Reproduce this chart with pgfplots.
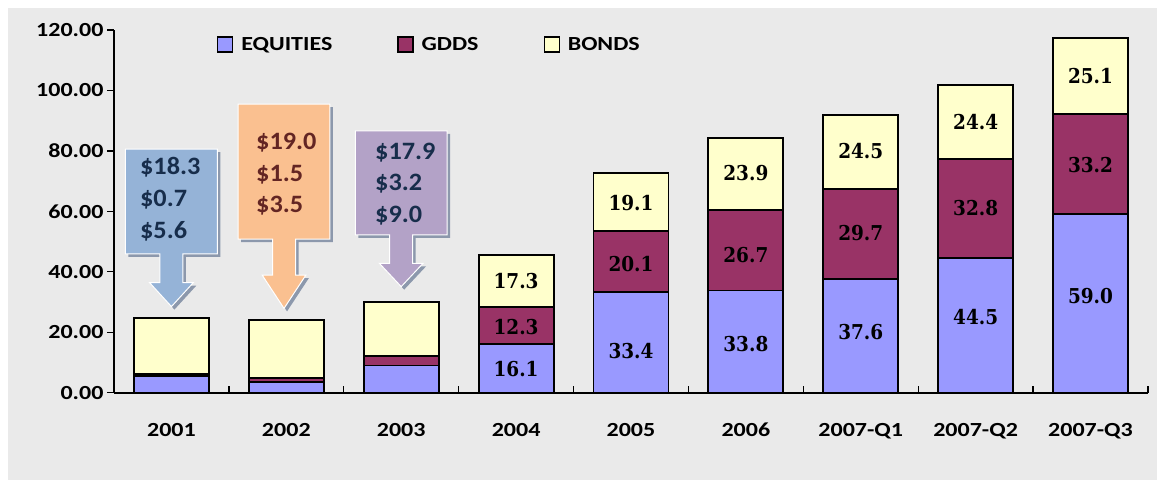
\documentclass[border=0pt]{standalone}
\usepackage{pgfplots}
\pgfplotsset{compat=1.18}
\usepackage{fontspec}
\setmainfont{Carlito}[FakeStretch=1.2]
\newfontfamily\calfont{Carlito}[FakeStretch=1.05]
\newfontfamily\labfont{DejaVu Serif}[FakeStretch=0.9]
\definecolor{bgc}{RGB}{234,234,234}
\definecolor{eqc}{RGB}{153,153,255}
\definecolor{gdc}{RGB}{153,51,102}
\definecolor{boc}{RGB}{255,255,204}
\definecolor{cblue}{RGB}{149,179,215}
\definecolor{corange}{RGB}{250,192,144}
\definecolor{cpurple}{RGB}{179,162,199}
\definecolor{tnavy}{RGB}{23,45,75}
\definecolor{tred}{RGB}{99,37,35}
\definecolor{shad}{RGB}{140,152,172}
\begin{document}
\begin{tikzpicture}
\useasboundingbox (0pt,0pt) rectangle (1157pt,-480pt);
\fill[white] (0pt,0pt) rectangle (1157pt,-480pt);
\fill[bgc] (8pt,-8pt) rectangle (1157pt,-480pt);
\begin{axis}[
  at={(114pt,-392.7pt)}, anchor=south west,
  width=1034pt, height=362.7pt, scale only axis,
  ybar stacked, bar width=75pt,
  xmin=-0.5, xmax=8.5, ymin=0, ymax=120,
  axis x line*=bottom, axis y line*=left,
  axis line style={line width=1.8pt, black},
  ytick={0,20,...,120},
  yticklabel style={/pgf/number format/.cd, fixed, fixed zerofill, precision=2},
  /pgf/number format/assume math mode=true,
  ticklabel style={font=\fontsize{20}{20}\selectfont\bfseries},
  xtick align=inside, ytick align=outside, major tick length=7pt,
  tick style={line width=1.3pt, black},
  xtick={0.5,1.5,...,8.5}, xticklabels={},
  extra x ticks={0,1,2,3,4,5,6,7,8},
  extra x tick labels={2001,2002,2003,2004,2005,2006,2007-Q1,2007-Q2,2007-Q3},
  extra x tick style={major tick length=0pt, tick label style={yshift=-27pt}},
  legend columns=3,
  legend style={at={(axis description cs:0.0995,0.9600)}, anchor=west,
    draw=none, fill=none, inner sep=0pt,
    nodes={inner sep=3pt},
    font=\fontsize{20}{20}\selectfont\bfseries,
    /tikz/every odd column/.append style={column sep=5pt},
    /tikz/every even column/.append style={column sep=62pt}},
  legend image code/.code={\draw[#1, line width=1.3pt] (0pt,-7.5pt) rectangle (15pt,7.5pt);},
  every axis plot/.append style={draw=black, line width=1.9pt},
]
\addplot[fill=eqc] coordinates {(0,5.6) (1,3.5) (2,9.0) (3,16.1) (4,33.4) (5,33.8) (6,37.6) (7,44.5) (8,59.0)};
\addlegendentry{EQUITIES}
\addplot[fill=gdc] coordinates {(0,0.7) (1,1.5) (2,3.2) (3,12.3) (4,20.1) (5,26.7) (6,29.7) (7,32.8) (8,33.2)};
\addlegendentry{GDDS}
\addplot[fill=boc] coordinates {(0,18.3) (1,19.0) (2,17.9) (3,17.3) (4,19.1) (5,23.9) (6,24.5) (7,24.4) (8,25.1)};
\addlegendentry{BONDS}
\end{axis}
\begin{axis}[
  at={(114pt,-392.7pt)}, anchor=south west,
  width=1034pt, height=362.7pt, scale only axis,
  xmin=-0.5, xmax=8.5, ymin=0, ymax=120,
  hide axis, clip=false,
]
\addplot[draw=none, mark=none,
  nodes near coords, point meta=explicit symbolic,
  every node near coord/.append style={anchor=center, inner sep=0pt, font=\labfont\fontsize{20.5}{20.5}\selectfont\bfseries, text=black}]
  coordinates {(3,7.8)[16.1] (4,13.9)[33.4] (5,16.2)[33.8] (6,20.2)[37.6] (7,25.0)[44.5] (8,32.0)[59.0]
   (3,21.7)[12.3] (4,42.5)[20.1] (5,45.7)[26.7] (6,52.7)[29.7] (7,61.0)[32.8] (8,75.3)[33.2]
   (3,37.1)[17.3] (4,62.9)[19.1] (5,72.8)[23.9] (6,79.9)[24.5] (7,89.4)[24.4] (8,104.9)[25.1]};
% callouts
\fill[shad, shift={(3pt,-3pt)}] (axis cs:-0.4,80.6) -- (axis cs:0.4,80.6) -- (axis cs:0.4,45.9) -- (axis cs:0.1,45.9) -- (axis cs:0.1,36.4) -- (axis cs:0.19,36.4) -- (axis cs:0,28.5) -- (axis cs:-0.19,36.4) -- (axis cs:-0.1,36.4) -- (axis cs:-0.1,45.9) -- (axis cs:-0.4,45.9) -- cycle;
\filldraw[fill=cblue, draw=white, line width=1pt] (axis cs:-0.4,80.6) -- (axis cs:0.4,80.6) -- (axis cs:0.4,45.9) -- (axis cs:0.1,45.9) -- (axis cs:0.1,36.4) -- (axis cs:0.19,36.4) -- (axis cs:0,28.5) -- (axis cs:-0.19,36.4) -- (axis cs:-0.1,36.4) -- (axis cs:-0.1,45.9) -- (axis cs:-0.4,45.9) -- cycle;
\fill[shad, shift={(3pt,-3pt)}] (axis cs:0.58,95.5) -- (axis cs:1.38,95.5) -- (axis cs:1.38,50.8) -- (axis cs:1.08,50.8) -- (axis cs:1.08,38.9) -- (axis cs:1.17,38.9) -- (axis cs:0.98,27.9) -- (axis cs:0.79,38.9) -- (axis cs:0.88,38.9) -- (axis cs:0.88,50.8) -- (axis cs:0.58,50.8) -- cycle;
\filldraw[fill=corange, draw=white, line width=1pt] (axis cs:0.58,95.5) -- (axis cs:1.38,95.5) -- (axis cs:1.38,50.8) -- (axis cs:1.08,50.8) -- (axis cs:1.08,38.9) -- (axis cs:1.17,38.9) -- (axis cs:0.98,27.9) -- (axis cs:0.79,38.9) -- (axis cs:0.88,38.9) -- (axis cs:0.88,50.8) -- (axis cs:0.58,50.8) -- cycle;
\fill[shad, shift={(3pt,-3pt)}] (axis cs:1.6,86.6) -- (axis cs:2.4,86.6) -- (axis cs:2.4,52.2) -- (axis cs:2.1,52.2) -- (axis cs:2.1,42.8) -- (axis cs:2.19,42.8) -- (axis cs:2.0,35.1) -- (axis cs:1.81,42.8) -- (axis cs:1.9,42.8) -- (axis cs:1.9,52.2) -- (axis cs:1.6,52.2) -- cycle;
\filldraw[fill=cpurple, draw=white, line width=1pt] (axis cs:1.6,86.6) -- (axis cs:2.4,86.6) -- (axis cs:2.4,52.2) -- (axis cs:2.1,52.2) -- (axis cs:2.1,42.8) -- (axis cs:2.19,42.8) -- (axis cs:2.0,35.1) -- (axis cs:1.81,42.8) -- (axis cs:1.9,42.8) -- (axis cs:1.9,52.2) -- (axis cs:1.6,52.2) -- cycle;
\begin{scope}[every node/.style={anchor=mid west, inner sep=0pt, font=\calfont\fontsize{25}{25}\selectfont\bfseries}]
\node[text=tnavy] at (axis cs:-0.274,73.1) {\$18.3};
\node[text=tnavy] at (axis cs:-0.274,62.5) {\$0.7};
\node[text=tnavy] at (axis cs:-0.274,51.9) {\$5.6};
\node[text=tred] at (axis cs:0.736,81.1) {\$19.0};
\node[text=tred] at (axis cs:0.736,70.8) {\$1.5};
\node[text=tred] at (axis cs:0.736,60.5) {\$3.5};
\node[text=tnavy] at (axis cs:1.772,78.1) {\$17.9};
\node[text=tnavy] at (axis cs:1.772,67.6) {\$3.2};
\node[text=tnavy] at (axis cs:1.772,57.2) {\$9.0};
\end{scope}
\end{axis}
\end{tikzpicture}
\end{document}
